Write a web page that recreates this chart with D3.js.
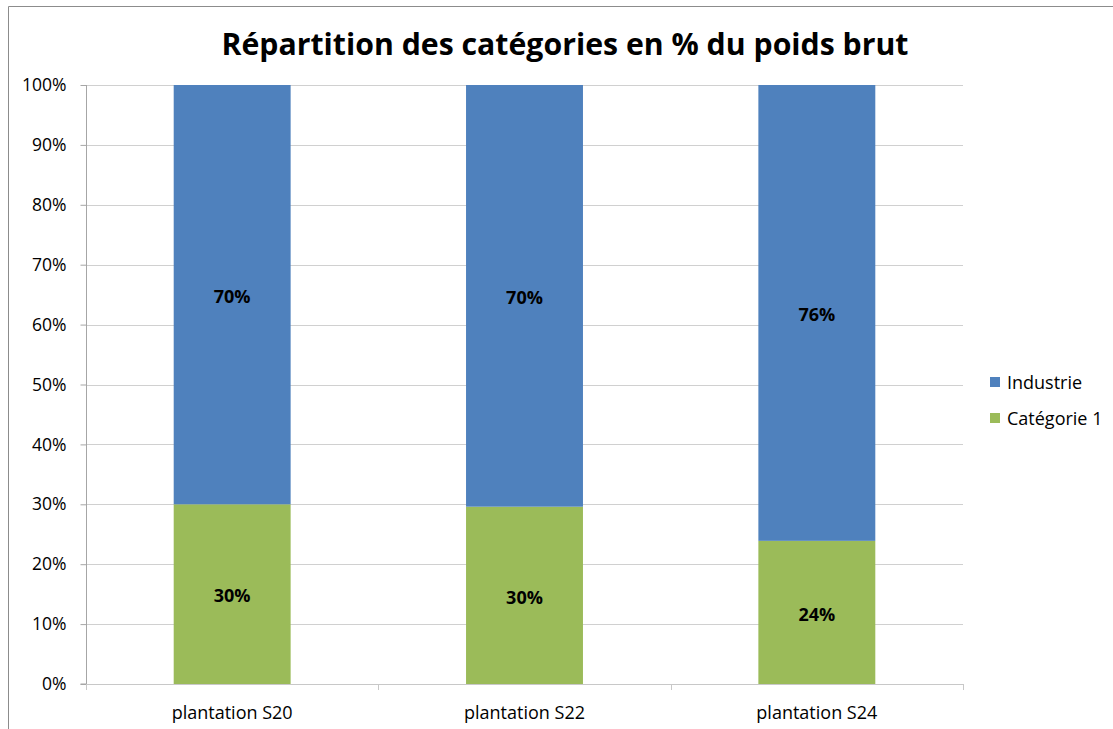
<!DOCTYPE html>
<html>
<head>
<meta charset="utf-8">
<script src="https://cdn.jsdelivr.net/npm/d3@7"></script>
<style>
  body { margin: 0; background: #fff; }
  text { font-family: "Open Sans", "DejaVu Sans", sans-serif; }
</style>
</head>
<body>
<div id="chart"></div>
<script>
// Chart data
const categories = ['plantation S20', 'plantation S22', 'plantation S24'];
const categorie1 = [0.300, 0.296, 0.239];
const industrie = [0.700, 0.704, 0.761];
const yTicks = [0, 0.1, 0.2, 0.3, 0.4, 0.5, 0.6, 0.7, 0.8, 0.9, 1];
const seriesNames = ['Industrie', 'Catégorie 1'];

const width = 1113;
const height = 729;
const margin = { top: 85, right: 150, bottom: 45, left: 86 };
const colors = { 'Industrie': '#4f81bd', 'Catégorie 1': '#9bbb59' };

const svg = d3.select('#chart')
  .append('svg')
  .attr('width', width)
  .attr('height', height);

// Outer frame (top and left edges visible)
svg.append('path')
  .attr('d', `M8.5,${height} V6.5 H${width}`)
  .attr('fill', 'none')
  .attr('stroke', '#8c8c8c')
  .attr('stroke-width', 1);

const xScale = d3.scaleBand()
  .domain(categories)
  .range([margin.left, width - margin.right])
  .paddingInner(0.6)
  .paddingOuter(0.3);

const yScale = d3.scaleLinear()
  .domain([0, 1])
  .range([height - margin.bottom, margin.top]);

// Gridlines
svg.append('g')
  .selectAll('line')
  .data(yTicks.filter(d => d > 0))
  .enter()
  .append('line')
  .attr('x1', margin.left)
  .attr('x2', width - margin.right)
  .attr('y1', d => Math.round(yScale(d)) + 0.5)
  .attr('y2', d => Math.round(yScale(d)) + 0.5)
  .attr('stroke', '#d0d0d0');

// Stacked bars
const rows = categories.map((c, i) => ({ cat: c, 'Catégorie 1': categorie1[i], 'Industrie': industrie[i] }));
const stack = d3.stack().keys(['Catégorie 1', 'Industrie'])(rows);

const layers = svg.append('g')
  .selectAll('g')
  .data(stack)
  .enter()
  .append('g')
  .attr('fill', d => colors[d.key]);

layers.selectAll('rect')
  .data(d => d)
  .enter()
  .append('rect')
  .attr('x', d => xScale(d.data.cat))
  .attr('y', d => yScale(d[1]))
  .attr('width', xScale.bandwidth())
  .attr('height', d => yScale(d[0]) - yScale(d[1]));

// Value labels
layers.selectAll('text')
  .data(d => d)
  .enter()
  .append('text')
  .attr('x', d => xScale(d.data.cat) + xScale.bandwidth() / 2)
  .attr('y', d => (yScale(d[0]) + yScale(d[1])) / 2 + 2)
  .attr('dy', '0.35em')
  .attr('text-anchor', 'middle')
  .style('font-size', '18px')
  .style('font-weight', 'bold')
  .style('fill', '#000')
  .text(d => Math.round((d[1] - d[0]) * 100) + '%');

// Y axis
const yAxis = d3.axisLeft(yScale)
  .tickValues(yTicks)
  .tickFormat(d3.format('.0%'))
  .tickSize(6)
  .tickPadding(14);

const yG = svg.append('g')
  .attr('transform', `translate(${margin.left + 0.5},0)`)
  .call(yAxis);
yG.select('.domain').attr('stroke', '#a6a6a6').attr('d', `M-6,${yScale(0)}H0V${yScale(1)}`);
yG.selectAll('.tick line').attr('stroke', '#a6a6a6');
yG.selectAll('.tick text')
  .style('font-size', '17.5px')
  .style('fill', '#000');

// X axis line with ticks at category boundaries
const x0 = margin.left, x1 = width - margin.right;
const step = (x1 - x0) / categories.length;
const xG = svg.append('g');
xG.append('line')
  .attr('x1', x0).attr('x2', x1)
  .attr('y1', yScale(0) + 0.5).attr('y2', yScale(0) + 0.5)
  .attr('stroke', '#c8c8c8');
xG.selectAll('.xtick')
  .data(d3.range(categories.length + 1))
  .enter()
  .append('line')
  .attr('x1', i => Math.round(x0 + i * step) + 0.5)
  .attr('x2', i => Math.round(x0 + i * step) + 0.5)
  .attr('y1', yScale(0))
  .attr('y2', yScale(0) + 6)
  .attr('stroke', '#c8c8c8');
xG.selectAll('.xlabel')
  .data(categories)
  .enter()
  .append('text')
  .attr('x', d => xScale(d) + xScale.bandwidth() / 2)
  .attr('y', yScale(0) + 35)
  .attr('text-anchor', 'middle')
  .style('font-size', '18px')
  .style('fill', '#000')
  .text(d => d);

// Title
svg.append('text')
  .attr('x', 565)
  .attr('y', 55)
  .attr('text-anchor', 'middle')
  .attr('textLength', 687)
  .attr('lengthAdjust', 'spacingAndGlyphs')
  .style('font-size', '30px')
  .style('font-weight', 'bold')
  .text('Répartition des catégories en % du poids brut');

// Legend
const legend = svg.append('g')
  .attr('transform', 'translate(990,374)');
const items = legend.selectAll('g')
  .data(seriesNames)
  .enter()
  .append('g')
  .attr('transform', (d, i) => `translate(0,${i * 36})`);
items.append('rect')
  .attr('width', 10)
  .attr('height', 10)
  .attr('y', 3)
  .attr('fill', d => colors[d]);
items.append('text')
  .attr('x', 17)
  .attr('y', 9)
  .attr('dy', '0.35em')
  .style('font-size', '18px')
  .style('fill', '#000')
  .text(d => d);
</script>
</body>
</html>
